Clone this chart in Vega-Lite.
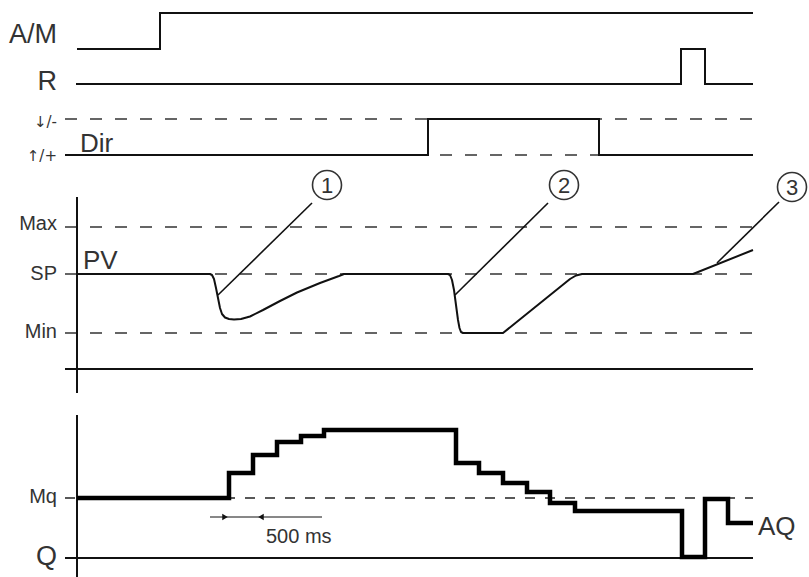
{
  "$schema": "https://vega.github.io/schema/vega-lite/v6.json",
  "width": 809,
  "height": 577,
  "padding": 0,
  "autosize": "none",
  "config": {"view": {"stroke": null}, "font": "Liberation Sans"},
  "datasets": {
    "solid": [
      {"path": "AM", "i": 1, "x": 77, "y": 49}, {"path": "AM", "i": 2, "x": 160, "y": 49}, {"path": "AM", "i": 3, "x": 160, "y": 13}, {"path": "AM", "i": 4, "x": 753, "y": 13},
      {"path": "R", "i": 1, "x": 76, "y": 84}, {"path": "R", "i": 2, "x": 681, "y": 84}, {"path": "R", "i": 3, "x": 681, "y": 49}, {"path": "R", "i": 4, "x": 705, "y": 49}, {"path": "R", "i": 5, "x": 705, "y": 84}, {"path": "R", "i": 6, "x": 753, "y": 84},
      {"path": "Dir", "i": 1, "x": 65, "y": 155}, {"path": "Dir", "i": 2, "x": 428, "y": 155}, {"path": "Dir", "i": 3, "x": 428, "y": 119}, {"path": "Dir", "i": 4, "x": 599, "y": 119}, {"path": "Dir", "i": 5, "x": 599, "y": 155}, {"path": "Dir", "i": 6, "x": 753, "y": 155},
      {"path": "PVaxis", "i": 1, "x": 77, "y": 197}, {"path": "PVaxis", "i": 2, "x": 77, "y": 393},
      {"path": "PVbase", "i": 1, "x": 65, "y": 369}, {"path": "PVbase", "i": 2, "x": 753, "y": 369},
      {"path": "AQaxis", "i": 1, "x": 77, "y": 415}, {"path": "AQaxis", "i": 2, "x": 77, "y": 577},
      {"path": "Qline", "i": 1, "x": 65, "y": 558}, {"path": "Qline", "i": 2, "x": 753, "y": 558}
    ],
    "dashed": [
      {"path": "DirHi", "i": 1, "x": 65, "y": 119}, {"path": "DirHi", "i": 2, "x": 753, "y": 119},
      {"path": "DirLo", "i": 1, "x": 65, "y": 155}, {"path": "DirLo", "i": 2, "x": 753, "y": 155},
      {"path": "Max", "i": 1, "x": 65, "y": 227}, {"path": "Max", "i": 2, "x": 753, "y": 227},
      {"path": "SP", "i": 1, "x": 65, "y": 274}, {"path": "SP", "i": 2, "x": 753, "y": 274},
      {"path": "Min", "i": 1, "x": 65, "y": 333}, {"path": "Min", "i": 2, "x": 753, "y": 333}
    ],
    "mq": [
      {"path": "Mq", "i": 1, "x": 65, "y": 498}, {"path": "Mq", "i": 2, "x": 753, "y": 498}
    ],
    "pv": [
      {"i": 1, "x": 77, "y": 274}, {"i": 2, "x": 210, "y": 274}, {"i": 3, "x": 212, "y": 275}, {"i": 4, "x": 214, "y": 279}, {"i": 5, "x": 216, "y": 288}, {"i": 6, "x": 218, "y": 298}, {"i": 7, "x": 220, "y": 308}, {"i": 8, "x": 222, "y": 314}, {"i": 9, "x": 225, "y": 317.5}, {"i": 10, "x": 229, "y": 319}, {"i": 11, "x": 234, "y": 319.5}, {"i": 12, "x": 241, "y": 319}, {"i": 13, "x": 250, "y": 316.5}, {"i": 14, "x": 263, "y": 310}, {"i": 15, "x": 280, "y": 301}, {"i": 16, "x": 297, "y": 292.5}, {"i": 17, "x": 320, "y": 283}, {"i": 18, "x": 339, "y": 276}, {"i": 19, "x": 344, "y": 274},
      {"i": 20, "x": 448, "y": 274}, {"i": 21, "x": 450, "y": 275}, {"i": 22, "x": 452, "y": 280}, {"i": 23, "x": 454, "y": 290}, {"i": 24, "x": 456, "y": 305}, {"i": 25, "x": 458, "y": 320}, {"i": 26, "x": 459.5, "y": 328}, {"i": 27, "x": 461, "y": 332}, {"i": 28, "x": 463, "y": 333}, {"i": 29, "x": 503, "y": 333}, {"i": 30, "x": 570, "y": 279}, {"i": 31, "x": 576, "y": 275.5}, {"i": 32, "x": 582, "y": 274}, {"i": 33, "x": 693, "y": 274}, {"i": 34, "x": 753, "y": 250}
    ],
    "aq": [
      {"i": 1, "x": 77, "y": 498}, {"i": 2, "x": 229, "y": 498}, {"i": 3, "x": 229, "y": 473}, {"i": 4, "x": 253, "y": 473}, {"i": 5, "x": 253, "y": 455}, {"i": 6, "x": 277, "y": 455}, {"i": 7, "x": 277, "y": 442}, {"i": 8, "x": 301, "y": 442}, {"i": 9, "x": 301, "y": 436}, {"i": 10, "x": 324, "y": 436}, {"i": 11, "x": 324, "y": 430}, {"i": 12, "x": 456, "y": 430}, {"i": 13, "x": 456, "y": 463}, {"i": 14, "x": 479, "y": 463}, {"i": 15, "x": 479, "y": 473}, {"i": 16, "x": 503, "y": 473}, {"i": 17, "x": 503, "y": 483}, {"i": 18, "x": 527, "y": 483}, {"i": 19, "x": 527, "y": 492}, {"i": 20, "x": 550, "y": 492}, {"i": 21, "x": 550, "y": 503}, {"i": 22, "x": 575, "y": 503}, {"i": 23, "x": 575, "y": 511}, {"i": 24, "x": 682, "y": 511}, {"i": 25, "x": 682, "y": 557}, {"i": 26, "x": 705, "y": 557}, {"i": 27, "x": 705, "y": 499}, {"i": 28, "x": 728, "y": 499}, {"i": 29, "x": 728, "y": 523}, {"i": 30, "x": 753, "y": 523}
    ],
    "leaders": [
      {"path": "L1", "i": 1, "x": 312, "y": 203}, {"path": "L1", "i": 2, "x": 218, "y": 295},
      {"path": "L2", "i": 1, "x": 548, "y": 203}, {"path": "L2", "i": 2, "x": 455, "y": 295},
      {"path": "L3", "i": 1, "x": 779, "y": 202}, {"path": "L3", "i": 2, "x": 717, "y": 263}
    ],
    "dim": [
      {"i": 1, "x": 210, "y": 517}, {"i": 2, "x": 322, "y": 517}
    ],
    "arrowR": [{"x": 225, "y": 517}],
    "arrowL": [{"x": 261, "y": 517}],
    "circles": [
      {"x": 327, "y": 185, "label": "1"},
      {"x": 564, "y": 185, "label": "2"},
      {"x": 792, "y": 187, "label": "3"}
    ],
    "bigRight": [
      {"x": 57, "y": 43, "text": "A/M"},
      {"x": 57, "y": 90, "text": "R"},
      {"x": 57, "y": 565, "text": "Q"}
    ],
    "midRight": [
      {"x": 57, "y": 230, "text": "Max"},
      {"x": 57, "y": 280, "text": "SP"},
      {"x": 57, "y": 338, "text": "Min"},
      {"x": 57, "y": 503, "text": "Mq"}
    ],
    "arrowLabels": [
      {"x": 57, "y": 127, "text": "↓/-"},
      {"x": 57, "y": 161, "text": "↑/+"}
    ],
    "bigLeft": [
      {"x": 80, "y": 152, "text": "Dir"},
      {"x": 83, "y": 269, "text": "PV"},
      {"x": 758, "y": 535, "text": "AQ"}
    ],
    "small": [
      {"x": 266, "y": 543, "text": "500 ms"}
    ]
  },
  "encoding": {
    "x": {"field": "x", "type": "quantitative", "scale": {"domain": [0, 809], "nice": false, "zero": false}, "axis": null},
    "y": {"field": "y", "type": "quantitative", "scale": {"domain": [0, 577], "reverse": true, "nice": false, "zero": false}, "axis": null}
  },
  "layer": [
    {"data": {"name": "dashed"}, "mark": {"type": "line", "color": "#333", "strokeWidth": 1.3, "strokeDash": [12, 13]}, "encoding": {"detail": {"field": "path"}, "order": {"field": "i"}}},
    {"data": {"name": "mq"}, "mark": {"type": "line", "color": "#222", "strokeWidth": 1.3, "strokeDash": [10, 10]}, "encoding": {"detail": {"field": "path"}, "order": {"field": "i"}}},
    {"data": {"name": "solid"}, "mark": {"type": "line", "color": "#111", "strokeWidth": 2, "strokeJoin": "miter"}, "encoding": {"detail": {"field": "path"}, "order": {"field": "i"}}},
    {"data": {"name": "pv"}, "mark": {"type": "line", "color": "#111", "strokeWidth": 2, "strokeJoin": "round"}, "encoding": {"order": {"field": "i"}}},
    {"data": {"name": "aq"}, "mark": {"type": "line", "color": "#000", "strokeWidth": 4.5, "strokeJoin": "miter", "strokeCap": "butt"}, "encoding": {"order": {"field": "i"}}},
    {"data": {"name": "leaders"}, "mark": {"type": "line", "color": "#111", "strokeWidth": 1.6}, "encoding": {"detail": {"field": "path"}, "order": {"field": "i"}}},
    {"data": {"name": "dim"}, "mark": {"type": "line", "color": "#111", "strokeWidth": 1}, "encoding": {"order": {"field": "i"}}},
    {"data": {"name": "arrowR"}, "mark": {"type": "point", "shape": "triangle-right", "filled": true, "color": "#111", "size": 40, "opacity": 1}},
    {"data": {"name": "arrowL"}, "mark": {"type": "point", "shape": "triangle-left", "filled": true, "color": "#111", "size": 40, "opacity": 1}},
    {"data": {"name": "circles"}, "mark": {"type": "point", "shape": "circle", "filled": false, "stroke": "#333", "strokeWidth": 1.6, "size": 841, "opacity": 1}},
    {"data": {"name": "circles"}, "mark": {"type": "text", "fontSize": 22, "color": "#333", "align": "center", "baseline": "middle", "dy": 1}, "encoding": {"text": {"field": "label"}}},
    {"data": {"name": "bigRight"}, "mark": {"type": "text", "fontSize": 27, "color": "#333", "align": "right", "baseline": "alphabetic"}, "encoding": {"text": {"field": "text"}}},
    {"data": {"name": "midRight"}, "mark": {"type": "text", "fontSize": 20, "color": "#333", "align": "right", "baseline": "alphabetic"}, "encoding": {"text": {"field": "text"}}},
    {"data": {"name": "arrowLabels"}, "mark": {"type": "text", "font": "DejaVu Sans", "fontSize": 15, "color": "#333", "align": "right", "baseline": "alphabetic"}, "encoding": {"text": {"field": "text"}}},
    {"data": {"name": "bigLeft"}, "mark": {"type": "text", "fontSize": 26, "color": "#333", "align": "left", "baseline": "alphabetic"}, "encoding": {"text": {"field": "text"}}},
    {"data": {"name": "small"}, "mark": {"type": "text", "fontSize": 20, "color": "#333", "align": "left", "baseline": "alphabetic"}, "encoding": {"text": {"field": "text"}}}
  ]
}
